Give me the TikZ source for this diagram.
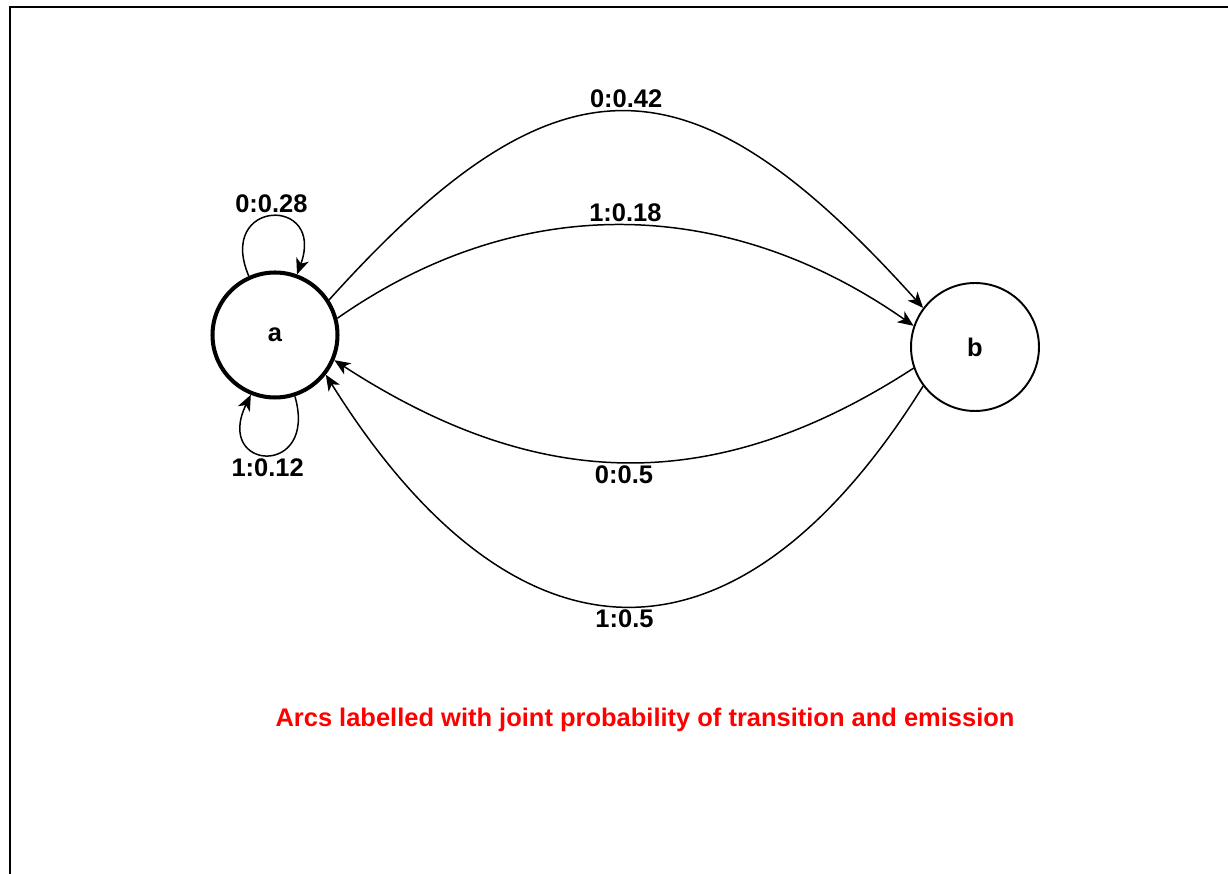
\documentclass[tikz,border=0pt]{standalone}
\usepackage{fontspec}
\setmainfont{Liberation Sans}
\usetikzlibrary{arrows.meta}
\definecolor{capred}{RGB}{255,0,0}

\tikzset{
  state/.style={circle,draw,minimum size=2.56cm,inner sep=0pt,
    font=\fontsize{14.5}{17}\selectfont\bfseries},
  arc/.style={line width=0.85pt,-{Stealth[length=9pt,width=7.5pt,inset=2.5pt]}},
  lbl/.style={font=\fontsize{14.5}{17}\selectfont\bfseries,inner sep=1.5pt}
}

\begin{document}
\begin{tikzpicture}[x=0.02cm,y=0.02cm]
%frame
\clip (0,0) rectangle (1228,873);
\draw[line width=1.15pt] (10.3,-10) |- (1240,866);

%states
\node[state,line width=2.3pt,minimum size=2.5cm] (a) at (275,538) {a};
\node[state,line width=1.1pt] (b) at (975,526) {b};

%arcs a to b
\draw[arc] (a.33) .. controls +(48:345) and +(132:345) .. (b.143)
  node[lbl,midway,above] {0:0.42};
\draw[arc] (a.15) .. controls +(35:225) and +(145:225) .. (b.161)
  node[lbl,midway,above] {1:0.18};

%arcs b to a
\draw[arc] (b.199) .. controls +(213:240) and +(-33:240) .. (a.337)
  node[lbl,midway,below] {0:0.5};
\draw[arc] (b.217) .. controls +(238:355) and +(-58:355) .. (a.322)
  node[lbl,midway,below] {1:0.5};

%self loops
\draw[arc] (a.114) .. controls +(113:84) and +(70:84) .. (a.70)
  node[lbl,midway,above] {0:0.28};
\draw[arc] (a.-72) .. controls +(-74:85) and +(-116:85) .. (a.-112)
  node[lbl,midway,below] {1:0.12};

%caption
\node[lbl,text=capred,anchor=base] (cap) at (645,147)
  {Arcs labelled with joint probability of transition and emission};
\end{tikzpicture}
\end{document}
